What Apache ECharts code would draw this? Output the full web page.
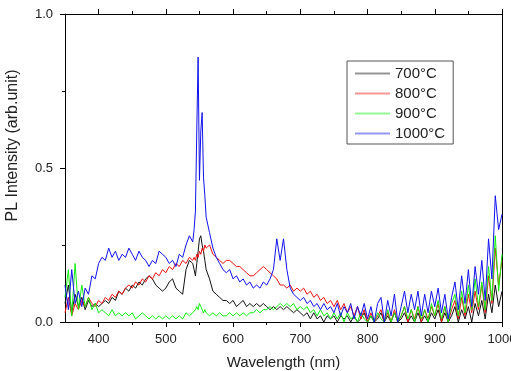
<!DOCTYPE html>
<html>
<head>
<meta charset="utf-8">
<script src="https://cdn.jsdelivr.net/npm/echarts@6/dist/echarts.min.js"></script>
<style>
  html, body { margin: 0; padding: 0; background: #fff; }
  #main { width: 511px; height: 371px; }
</style>
</head>
<body>
<div id="main"></div>
<script>
// wavelength (nm), finer steps around the 548 nm line
const wl = [350,355,360,365,370,375,380,385,390,395,400,405,410,415,420,425,430,435,440,445,
  450,455,460,465,470,475,480,485,490,495,500,505,510,515,520,525,530,535,540,
  542,544,546,548,550,552,554,556,558,
  560,565,570,575,580,585,590,595,600,605,610,615,620,625,630,635,640,645,650,655,
  660,665,670,675,680,685,690,695,700,705,710,715,720,725,730,735,740,745,750,755,
  760,765,770,775,780,785,790,795,800,805,810,815,820,825,830,835,840,845,850,855,
  860,865,870,875,880,885,890,895,900,905,910,915,920,925,930,935,940,945,950,955,
  960,965,970,975,980,985,990,995,1000];

const s700 = [0.06,0.12,0.03,0.09,0.05,0.08,0.04,0.07,0.05,0.06,0.05,0.06,0.07,0.06,0.08,0.07,0.10,0.09,0.11,0.10,
  0.12,0.11,0.13,0.12,0.14,0.15,0.14,0.12,0.11,0.10,0.11,0.13,0.14,0.11,0.10,0.09,0.17,0.20,0.19,
  0.17,0.15,0.19,0.23,0.27,0.28,0.25,0.23,0.20,
  0.17,0.14,0.10,0.09,0.08,0.07,0.07,0.06,0.07,0.05,0.06,0.07,0.05,0.06,0.05,0.06,0.05,0.06,0.05,0.04,
  0.05,0.04,0.05,0.04,0.05,0.04,0.03,0.04,0.03,0.02,0.03,0.01,0.03,0.01,0.02,0.00,0.02,0.01,0.02,0.00,
  0.02,0.01,0.02,0.00,0.02,0.00,0.01,0.03,0.00,0.02,0.00,0.01,0.03,0.00,0.02,0.00,0.03,0.00,0.01,0.03,
  0.00,0.02,0.00,0.03,0.00,0.02,0.00,0.03,0.01,0.04,0.00,0.03,0.00,0.02,0.05,0.00,0.04,0.01,0.05,0.00,
  0.06,0.02,0.07,0.01,0.09,0.03,0.12,0.05,0.10];

const s800 = [0.03,0.08,0.02,0.06,0.04,0.07,0.05,0.08,0.06,0.05,0.07,0.06,0.08,0.07,0.09,0.08,0.10,0.09,0.11,0.12,
  0.11,0.13,0.12,0.14,0.13,0.15,0.14,0.16,0.15,0.17,0.16,0.18,0.17,0.19,0.18,0.20,0.19,0.21,0.20,
  0.21,0.20,0.22,0.21,0.23,0.22,0.24,0.23,0.25,
  0.24,0.25,0.22,0.21,0.20,0.19,0.20,0.20,0.19,0.18,0.18,0.17,0.16,0.15,0.15,0.16,0.17,0.18,0.17,0.16,
  0.15,0.14,0.12,0.12,0.11,0.12,0.10,0.11,0.10,0.11,0.09,0.10,0.08,0.09,0.07,0.08,0.06,0.07,0.05,0.07,
  0.04,0.06,0.03,0.05,0.02,0.05,0.01,0.04,0.00,0.03,0.00,0.02,0.04,0.00,0.03,0.00,0.04,0.00,0.02,0.05,
  0.00,0.04,0.01,0.05,0.00,0.04,0.01,0.05,0.02,0.06,0.00,0.05,0.00,0.04,0.07,0.01,0.08,0.02,0.09,0.03,
  0.10,0.04,0.12,0.03,0.15,0.06,0.24,0.12,0.20];

const s900 = [0.08,0.17,0.02,0.19,0.04,0.12,0.05,0.08,0.04,0.06,0.03,0.04,0.03,0.02,0.04,0.02,0.03,0.02,0.03,0.02,
  0.03,0.01,0.02,0.03,0.02,0.01,0.02,0.01,0.02,0.01,0.02,0.01,0.02,0.01,0.02,0.01,0.03,0.02,0.03,
  0.03,0.04,0.05,0.04,0.06,0.05,0.04,0.03,0.04,
  0.03,0.02,0.03,0.02,0.03,0.02,0.02,0.03,0.02,0.03,0.02,0.03,0.02,0.03,0.03,0.04,0.03,0.04,0.04,0.05,
  0.04,0.05,0.06,0.05,0.06,0.05,0.06,0.04,0.05,0.04,0.05,0.03,0.04,0.02,0.04,0.02,0.03,0.01,0.03,0.01,
  0.03,0.00,0.03,0.01,0.02,0.00,0.03,0.01,0.00,0.02,0.00,0.03,0.01,0.00,0.04,0.00,0.03,0.00,0.02,0.05,
  0.01,0.04,0.00,0.05,0.01,0.04,0.00,0.06,0.02,0.07,0.01,0.05,0.00,0.06,0.09,0.02,0.10,0.03,0.12,0.04,
  0.14,0.05,0.13,0.04,0.18,0.07,0.28,0.10,0.22];

const s1000 = [0.12,0.04,0.17,0.06,0.10,0.05,0.11,0.09,0.15,0.14,0.19,0.21,0.20,0.24,0.21,0.23,0.20,0.22,0.21,0.24,
  0.22,0.20,0.23,0.21,0.20,0.18,0.20,0.19,0.23,0.22,0.21,0.19,0.20,0.18,0.22,0.21,0.25,0.28,0.26,
  0.30,0.36,0.62,0.86,0.46,0.62,0.68,0.47,0.41,
  0.34,0.29,0.24,0.21,0.19,0.17,0.16,0.17,0.14,0.15,0.13,0.14,0.12,0.13,0.11,0.12,0.11,0.13,0.12,0.14,
  0.17,0.27,0.20,0.27,0.17,0.11,0.09,0.08,0.07,0.08,0.06,0.07,0.05,0.06,0.04,0.06,0.04,0.05,0.03,0.06,
  0.02,0.05,0.03,0.06,0.01,0.05,0.02,0.06,0.01,0.05,0.00,0.06,0.08,0.00,0.07,0.02,0.09,0.00,0.05,0.10,
  0.03,0.09,0.04,0.10,0.02,0.09,0.03,0.10,0.05,0.11,0.03,0.09,0.01,0.08,0.13,0.04,0.15,0.06,0.17,0.05,
  0.18,0.09,0.20,0.07,0.27,0.14,0.41,0.30,0.35];

const names = ['700°C', '800°C', '900°C', '1000°C'];
const colors = ['#111111', '#ee1111', '#11ee11', '#1111ee'];
const xMajor = [400, 500, 600, 700, 800, 900, 1000];
const xMinor = [450, 550, 650, 750, 850, 950];

const chart = echarts.init(document.getElementById('main'));
const font = 'Liberation Sans, Arial, sans-serif';
const axisBase = { type: 'value', min: 350, max: 1000, splitLine: { show: false } };

function mk(vals, i) {
  return {
    name: names[i], type: 'line', symbol: 'none', animation: false,
    lineStyle: { width: 1, color: colors[i] }, itemStyle: { color: colors[i] },
    data: wl.map((w, k) => [w, vals[k]])
  };
}

chart.setOption({
  backgroundColor: '#fff',
  animation: false,
  grid: { left: 65, right: 9, top: 14, bottom: 49, containLabel: false, outerBoundsMode: 'none' },
  legend: {
    orient: 'vertical', left: 347, top: 61,
    padding: [5, 8, 3, 7], itemWidth: 35, itemHeight: 15, itemGap: 5,
    borderColor: '#555', borderWidth: 1,
    itemStyle: { opacity: 0 },
    lineStyle: { opacity: 0.45 },
    textStyle: { fontFamily: font, fontSize: 15, color: '#222' },
    data: names
  },
  xAxis: [
    Object.assign({}, axisBase, {
      position: 'bottom',
      name: 'Wavelength (nm)', nameLocation: 'middle', nameGap: 33,
      nameTextStyle: { fontFamily: font, fontSize: 15, color: '#222' },
      axisLine: { lineStyle: { color: '#000', width: 1 } },
      axisTick: { customValues: xMajor, length: 5, lineStyle: { color: '#000' } },
      axisLabel: { customValues: xMajor, margin: 11, fontFamily: font, fontSize: 13, color: '#222',
        formatter: v => String(v) }
    }),
    Object.assign({}, axisBase, {
      position: 'bottom',
      axisLine: { show: false },
      axisTick: { customValues: xMinor, length: 3, lineStyle: { color: '#000' } },
      axisLabel: { show: false }
    }),
    Object.assign({}, axisBase, {
      position: 'top',
      axisLine: { lineStyle: { color: '#000', width: 1 } },
      axisTick: { customValues: xMajor, length: 5, lineStyle: { color: '#000' } },
      axisLabel: { show: false }
    }),
    Object.assign({}, axisBase, {
      position: 'top',
      axisLine: { show: false },
      axisTick: { customValues: xMinor, length: 3, lineStyle: { color: '#000' } },
      axisLabel: { show: false }
    })
  ],
  yAxis: [
    {
      type: 'value', position: 'left', min: 0, max: 1, interval: 0.5,
      name: 'PL Intensity (arb.unit)', nameLocation: 'middle', nameGap: 44,
      nameTextStyle: { fontFamily: font, fontSize: 16, color: '#222', padding: [0, 0, 0, 45] },
      splitLine: { show: false },
      axisLine: { show: true, lineStyle: { color: '#000', width: 1 } },
      axisTick: { show: true, length: 5, lineStyle: { color: '#000' } },
      minorTick: { show: true, splitNumber: 2, length: 3, lineStyle: { color: '#000' } },
      axisLabel: { margin: 12, fontFamily: font, fontSize: 13, color: '#222',
        formatter: v => v.toFixed(1) }
    },
    {
      type: 'value', position: 'right', min: 0, max: 1,
      splitLine: { show: false },
      axisLine: { show: true, lineStyle: { color: '#000', width: 1 } },
      axisTick: { show: false }, axisLabel: { show: false }
    }
  ],
  series: [mk(s700, 0), mk(s800, 1), mk(s900, 2), mk(s1000, 3)]
});
</script>
</body>
</html>
